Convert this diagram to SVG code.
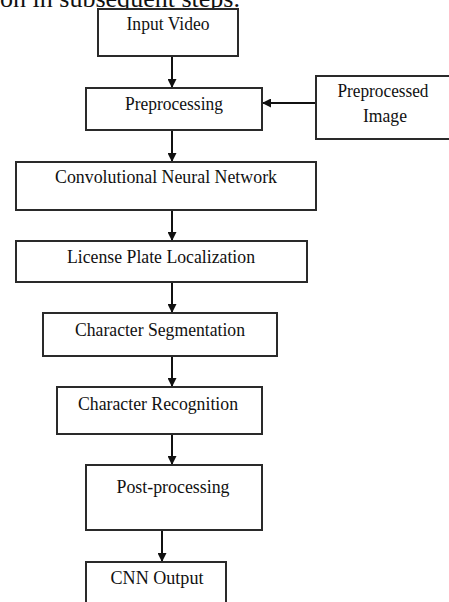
<svg xmlns="http://www.w3.org/2000/svg" width="449" height="602" viewBox="0 0 449 602">
<defs>
<marker id="arr" viewBox="0 0 10 10" refX="10" refY="5" markerWidth="9" markerHeight="9" markerUnits="userSpaceOnUse" orient="auto">
<path d="M0,0 L10,5 L0,10 Z" fill="#111"/>
</marker>
</defs>
<style>
.box{fill:#fff;stroke:#2a2a2a;stroke-width:2}
.t{font-family:"Liberation Serif","Times New Roman",serif;font-size:19px;fill:#111;text-anchor:middle}
.c{stroke:#111;stroke-width:2;fill:none;marker-end:url(#arr)}
</style>
<rect width="449" height="602" fill="#fff"/>
<text x="0" y="7" font-family="Liberation Serif, serif" font-size="25" fill="#111" textLength="240" lengthAdjust="spacingAndGlyphs">on in subsequent steps.</text>
<g id="connectors">
<line class="c" x1="172" y1="56" x2="172" y2="88"/>
<line class="c" x1="316" y1="103" x2="262" y2="103"/>
<line class="c" x1="172" y1="130" x2="172" y2="162"/>
<line class="c" x1="172" y1="210" x2="172" y2="241"/>
<line class="c" x1="172" y1="282" x2="172" y2="313"/>
<line class="c" x1="172" y1="356" x2="172" y2="387"/>
<line class="c" x1="172" y1="434" x2="172" y2="465"/>
<line class="c" x1="162" y1="530" x2="162" y2="562"/>
</g>
<g id="input-video">
<rect class="box" x="98" y="9" width="140" height="47"/>
<text class="t" x="168" y="30" textLength="83" lengthAdjust="spacingAndGlyphs">Input Video</text>
</g>
<g id="preprocessing">
<rect class="box" x="86" y="88" width="176" height="42"/>
<text class="t" x="174" y="110" textLength="98" lengthAdjust="spacingAndGlyphs">Preprocessing</text>
</g>
<g id="preprocessed-image">
<rect class="box" x="316" y="76" width="140" height="63"/>
<text class="t" x="383" y="97" textLength="91" lengthAdjust="spacingAndGlyphs">Preprocessed</text>
<text class="t" x="385" y="122" textLength="44" lengthAdjust="spacingAndGlyphs">Image</text>
</g>
<g id="cnn">
<rect class="box" x="16" y="162" width="300" height="48"/>
<text class="t" x="166" y="183" textLength="222" lengthAdjust="spacingAndGlyphs">Convolutional Neural Network</text>
</g>
<g id="lpl">
<rect class="box" x="16" y="241" width="291" height="41"/>
<text class="t" x="161" y="263" textLength="188" lengthAdjust="spacingAndGlyphs">License Plate Localization</text>
</g>
<g id="char-seg">
<rect class="box" x="43" y="313" width="234" height="43"/>
<text class="t" x="160" y="336" textLength="170" lengthAdjust="spacingAndGlyphs">Character Segmentation</text>
</g>
<g id="char-rec">
<rect class="box" x="57" y="387" width="205" height="47"/>
<text class="t" x="158" y="410" textLength="160" lengthAdjust="spacingAndGlyphs">Character Recognition</text>
</g>
<g id="post">
<rect class="box" x="86" y="465" width="176" height="65"/>
<text class="t" x="173" y="493" textLength="113" lengthAdjust="spacingAndGlyphs">Post-processing</text>
</g>
<g id="cnn-output">
<rect class="box" x="86" y="562" width="140" height="60"/>
<text class="t" x="157" y="584" textLength="93" lengthAdjust="spacingAndGlyphs">CNN Output</text>
</g>
</svg>
